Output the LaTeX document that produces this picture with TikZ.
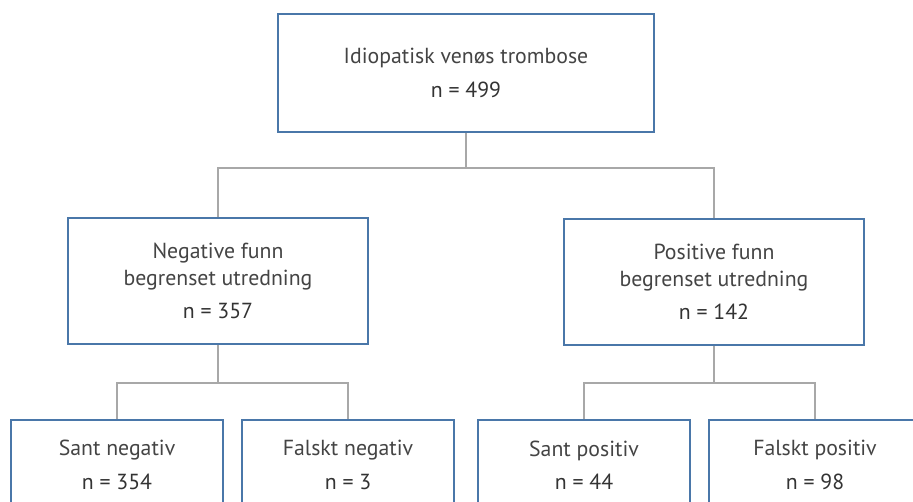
\documentclass[tikz,border=0pt]{standalone}
\usepackage{fontspec}
\setmainfont{PT Sans}
\usepackage{xcolor}
\usepackage{tikz}
\usetikzlibrary{positioning}
\definecolor{FlowBlue}{HTML}{4A77A9}
\definecolor{FlowGray}{HTML}{A8A8A8}
\definecolor{FlowText}{HTML}{444444}
\tikzset{
    flowbox/.style={draw=FlowBlue, line width=1.15pt, fill=white, inner sep=0pt,
        align=center, text=FlowText, font=\fontsize{12.4}{15}\selectfont},
    link/.style={draw=FlowGray, line width=0.85pt}
}
\newcommand{\ncount}[1]{\\[4pt]{\color{black!80}n = #1}}

\begin{document}
\begin{tikzpicture}[x=0.02cm, y=-0.02cm]
                \useasboundingbox (0,0) rectangle (913,501);
                \clip (0,0) rectangle (913,501);
                % top
                \node[flowbox, minimum width=7.52cm, minimum height=2.36cm] (idio) at (466,73)
                    {Idiopatisk venøs trombose\ncount{499}};
                % middle
                \node[flowbox, minimum width=6cm, minimum height=2.52cm] (neg) at (218,281)
                    {Negative funn\\begrenset utredning\ncount{357}};
                \node[flowbox, minimum width=6cm, minimum height=2.52cm] (pos) at (714,282)
                    {Positive funn\\begrenset utredning\ncount{142}};
                % bottom
                \node[flowbox, minimum width=4.23cm, minimum height=1.82cm] (sneg) at (117,465)
                    {Sant negativ\ncount{354}};
                \node[flowbox, minimum width=4.24cm, minimum height=1.82cm] (fneg) at (348,465)
                    {Falskt negativ\ncount{3}};
                \node[flowbox, minimum width=4.24cm, minimum height=1.82cm] (spos) at (584,465)
                    {Sant positiv\ncount{44}};
                \node[flowbox, minimum width=4.24cm, minimum height=1.82cm] (fpos) at (815,465)
                    {Falskt positiv\ncount{98}};
                % connectors
                \coordinate (split) at (466,168);
                \coordinate (splitneg) at (218,383);
                \coordinate (splitpos) at (714,383);
                \draw[link] (idio.south) -- (split);
                \draw[link] (neg.north) |- (split) -| (pos.north);
                \draw[link] (neg.south) -- (splitneg);
                \draw[link] (sneg.north) |- (splitneg) -| (fneg.north);
                \draw[link] (pos.south) -- (splitpos);
                \draw[link] (spos.north) |- (splitpos) -| (fpos.north);
            \end{tikzpicture}
\end{document}
